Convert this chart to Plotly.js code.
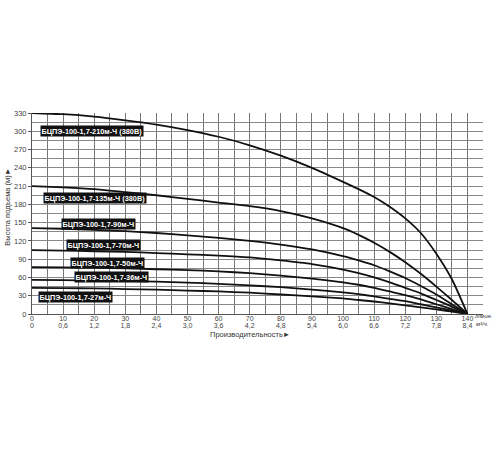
<!DOCTYPE html>
<html><head><meta charset="utf-8">
<script src="https://cdn.plot.ly/plotly-3.0.1.min.js"></script>
<style>html,body{margin:0;padding:0;background:#fff}#c{width:500px;height:450px}</style>
</head><body><div id="c"></div>
<script>
var flow = [0,10,20,30,40,50,60,70,80,90,100,105,110,115,120,125,130,135,140];
var head210 = [330,328,324,318,311,302,291,277,260,240,217,205,192,176,157,133,99,57,0];
var head135 = [210,208,205,200,195,189,183,177,169,157,141,130,117,102,85,66,45,23,0];
var head90  = [141,140,138,136,133,129,125,120,114,106,95,88,80,70,59,46,32,16,0];
var head70  = [105,104,103,102,100,98,96,93,88,82,73,67,60,52,43,34,23,12,0];
var head50  = [77,76.5,76,75,73.5,72,70,67,63,58,52,48,43,37,31,24,16,8,0];
var head36  = [56,55.5,55,54,53,51.5,49.5,47,44,40,35.5,32.5,29,25,21,16,11,5.5,0];
var head27  = [43,42.5,42,41,40,38.5,37,35,32,29,25.5,23,20.5,17.5,14,11,7.5,4,0];
var seriesNames = ['БЦПЭ-100-1,7-210м-Ч (380В)','БЦПЭ-100-1,7-135м-Ч (380В)','БЦПЭ-100-1,7-90м-Ч','БЦПЭ-100-1,7-70м-Ч','БЦПЭ-100-1,7-50м-Ч','БЦПЭ-100-1,7-36м-Ч','БЦПЭ-100-1,7-27м-Ч'];
var flowTicks = [0,10,20,30,40,50,60,70,80,90,100,110,120,130,140];
var m3hTicks = ['0','0,6','1,2','1,8','2,4','3,0','3,6','4,2','4,8','5,4','6,0','6,6','7,2','7,8','8,4'];
var headTicks = [0,30,60,90,120,150,180,210,240,270,300,330];

var heads = [head210,head135,head90,head70,head50,head36,head27];
var labelPos = [[2.6,300],[3.5,190],[9.3,147],[10.8,112.5],[12.2,83],[13.5,61],[1.8,28]];

var traces = heads.map(function(h,i){
  return {x: flow, y: h, mode:'lines', name: seriesNames[i], line:{color:'#111', width:1.8, shape:'spline', smoothing:0.6}, hoverinfo:'skip'};
});
// invisible carrier so the second (m³/ч) tick row is drawn
traces.push({x: flow, y: head27, xaxis:'x2', mode:'lines', line:{width:0, color:'rgba(0,0,0,0)'}, hoverinfo:'skip', showlegend:false});

var ann = seriesNames.map(function(n,i){
  return {x: labelPos[i][0], y: labelPos[i][1], xref:'x', yref:'y', text:'<b>'+n+'</b>', showarrow:false,
    xanchor:'left', yanchor:'middle', bgcolor:'#111', borderpad:0.5,
    font:{family:'Arial, Liberation Sans', size:7.3, color:'#fff'}};
});
ann.push({xref:'paper', yref:'paper', x:(472-32)/451, y:(314.5-317)/201.5, text:'<i>л/мин.</i>', showarrow:false, xanchor:'left', yanchor:'middle', font:{family:'Arial', size:6, color:'#333'}});
ann.push({xref:'paper', yref:'paper', x:(474-32)/451, y:(314.5-325)/201.5, text:'<i>м³/ч.</i>', showarrow:false, xanchor:'left', yanchor:'middle', font:{family:'Arial', size:6, color:'#333'}});
ann.push({xref:'paper', yref:'paper', x:(250-32)/451, y:(314.5-335)/201.5, text:'Производительность►', showarrow:false, xanchor:'center', yanchor:'middle', font:{family:'Arial', size:7.5, color:'#333'}});
ann.push({xref:'paper', yref:'paper', x:(8-32)/451, y:(314.5-207)/201.5, text:'Высота подъема (м)►', textangle:-90, showarrow:false, xanchor:'center', yanchor:'middle', font:{family:'Arial', size:7.5, color:'#333'}});

var layout = {
  width:500, height:450,
  margin:{l:32, r:17, t:113, b:135.5},
  paper_bgcolor:'#fff', plot_bgcolor:'#fff',
  showlegend:false,
  xaxis:{range:[0,145], tickvals:flowTicks, ticktext:flowTicks.map(String), tickmode:'array',
    showgrid:true, gridcolor:'#777', gridwidth:1,
    minor:{dtick:5, tick0:0, showgrid:true, gridcolor:'#777', gridwidth:1},
    showline:true, linecolor:'#555', linewidth:1, zeroline:false, ticks:'', ticklen:0,
    ticklabelstandoff:-2,
    tickfont:{family:'Arial', size:7, color:'#444'}, fixedrange:true},
  xaxis2:{range:[0,145], overlaying:'x', side:'bottom', anchor:'y', tickvals:flowTicks, ticktext:m3hTicks, tickmode:'array',
    showgrid:false, showline:false, zeroline:false, ticks:'', ticklen:0,
    ticklabelstandoff:6,
    tickfont:{family:'Arial', size:7, color:'#444'}, fixedrange:true},
  yaxis:{range:[0,330], tickvals:headTicks, tickmode:'array',
    showgrid:true, gridcolor:'#888', gridwidth:1,
    minor:{dtick:15, tick0:0, showgrid:true, gridcolor:'#888', gridwidth:1},
    showline:true, linecolor:'#555', linewidth:1, zeroline:false, ticks:'outside', ticklen:3, tickcolor:'#555',
    tickfont:{family:'Arial', size:7.5, color:'#444'}, fixedrange:true},
  annotations: ann
};
Plotly.newPlot('c', traces, layout, {staticPlot:true, displayModeBar:false});
</script></body></html>
